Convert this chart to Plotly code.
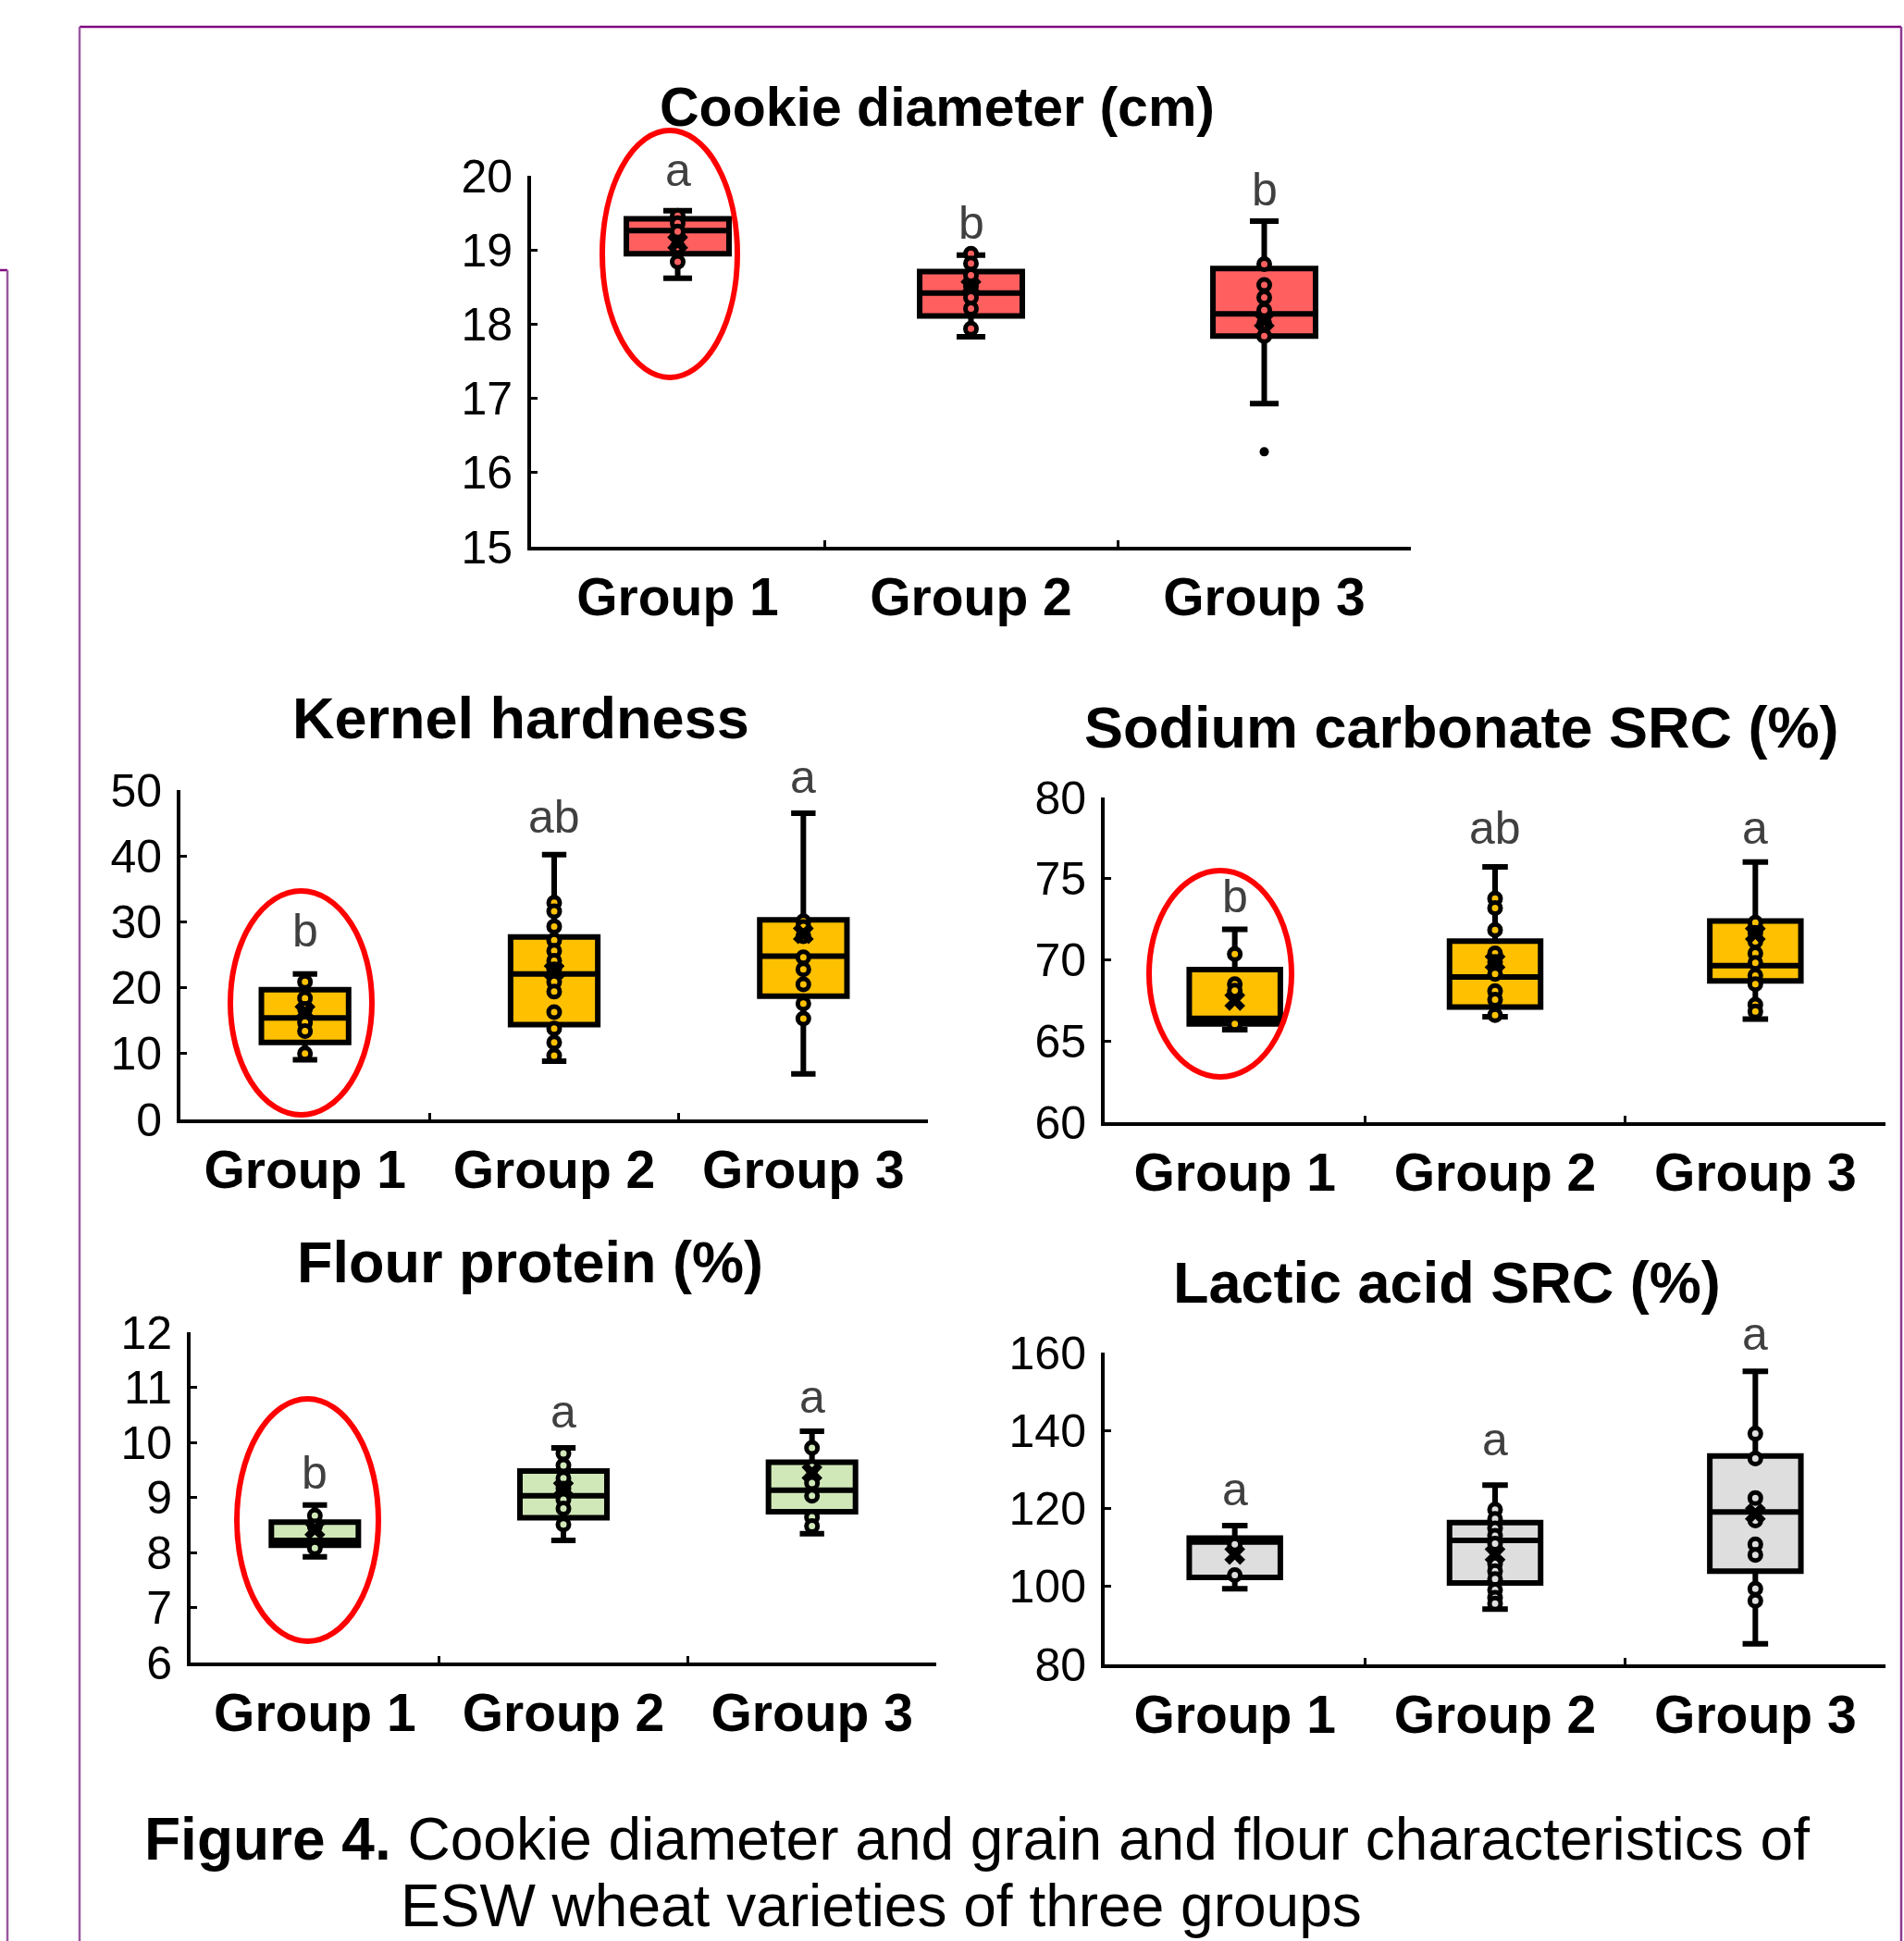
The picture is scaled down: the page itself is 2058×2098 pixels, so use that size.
import plotly.graph_objects as go

W, H = 2058, 2098
FONT = "Liberation Sans, Arial, sans-serif"

groups = ["Group 1", "Group 2", "Group 3"]

# ---------------- data ----------------
# Cookie diameter (cm)
cookie_lower = [18.62, 17.83, 16.93]
cookie_q1 = [18.95, 18.11, 17.84]
cookie_median = [19.26, 18.42, 18.14]
cookie_q3 = [19.42, 18.71, 18.75]
cookie_upper = [19.53, 18.93, 19.39]
cookie_mean = [19.10, 18.50, 18.05]
cookie_points = [[19.46, 19.36, 19.25, 19.04, 18.84],
                 [18.95, 18.82, 18.66, 18.51, 18.36, 18.21, 17.94],
                 [18.81, 18.53, 18.36, 18.19, 18.01, 17.84]]
cookie_outliers = [[], [], [16.28]]
cookie_letters = ["a", "b", "b"]
cookie_letter_y = [20.08, 19.37, 19.81]
cookie_ticks = [15, 16, 17, 18, 19, 20]

# Kernel hardness
kernel_lower = [9.06, 8.85, 6.9]
kernel_q1 = [11.7, 14.4, 18.7]
kernel_median = [15.4, 22.1, 24.8]
kernel_q3 = [19.7, 27.7, 30.3]
kernel_upper = [22.1, 40.2, 46.5]
kernel_mean = [16.3, 22.5, 28.2]
kernel_points = [[20.9, 18.4, 16.8, 14.7, 13.4, 10.0],
                 [32.9, 31.6, 29.3, 27.2, 25.6, 24.1, 22.8, 20.9, 19.4, 16.3, 13.8, 11.7, 9.7],
                 [30.1, 29.2, 27.8, 24.6, 22.8, 20.5, 17.6, 15.3]]
kernel_outliers = [[], [], []]
kernel_letters = ["b", "ab", "a"]
kernel_letter_y = [28.7, 45.9, 51.9]
kernel_ticks = [0, 10, 20, 30, 40, 50]

# Sodium carbonate SRC (%)
sodium_lower = [65.7, 66.5, 66.35]
sodium_q1 = [66.05, 67.1, 68.7]
sodium_median = [66.4, 68.94, 69.65]
sodium_q3 = [69.4, 71.15, 72.4]
sodium_upper = [71.88, 75.73, 76.03]
sodium_mean = [67.5, 69.87, 71.6]
sodium_points = [[70.36, 68.5, 68.1, 66.05],
                 [73.78, 73.19, 71.84, 70.4, 69.87, 69.13, 68.08, 67.55, 66.6],
                 [72.3, 71.67, 71.14, 70.4, 69.81, 69.03, 68.5, 67.24, 66.82]]
sodium_outliers = [[], [], []]
sodium_letters = ["b", "ab", "a"]
sodium_letter_y = [73.9, 78.1, 78.1]
sodium_ticks = [60, 65, 70, 75, 80]

# Flour protein (%)
flour_lower = [7.92, 8.22, 8.34]
flour_q1 = [8.13, 8.63, 8.74]
flour_median = [8.22, 9.03, 9.13]
flour_q3 = [8.55, 9.48, 9.64]
flour_upper = [8.86, 9.9, 10.2]
flour_mean = [8.42, 9.16, 9.45]
flour_points = [[8.67, 8.47, 8.08],
                 [9.8, 9.58, 9.35, 9.16, 8.96, 8.8, 8.51],
                 [9.9, 9.55, 9.26, 9.03, 8.64, 8.48]]
flour_outliers = [[], [], []]
flour_letters = ["b", "a", "a"]
flour_letter_y = [9.45, 10.55, 10.83]
flour_ticks = [6, 7, 8, 9, 10, 11, 12]

# Lactic acid SRC (%)
lactic_lower = [99.4, 94.2, 85.3]
lactic_q1 = [102.3, 100.9, 103.9]
lactic_median = [111.4, 111.8, 119.1]
lactic_q3 = [112.4, 116.4, 133.5]
lactic_upper = [115.6, 126.0, 155.2]
lactic_mean = [108.2, 108.2, 118.7]
lactic_points = [[110.8, 102.9],
                 [119.7, 117.3, 114.9, 113.0, 111.0, 105.8, 103.9, 101.9, 99.1, 97.1, 95.6],
                 [139.2, 132.8, 122.7, 116.9, 110.8, 108.1, 99.4, 96.3]]
lactic_outliers = [[], [], []]
lactic_letters = ["a", "a", "a"]
lactic_letter_y = [124.8, 137.8, 164.8]
lactic_ticks = [80, 100, 120, 140, 160]

titles = ["Cookie diameter (cm)", "Kernel hardness", "Sodium carbonate SRC (%)",
          "Flour protein (%)", "Lactic acid SRC (%)"]
caption_bold = "Figure 4."
caption_line1 = " Cookie diameter and grain and flour characteristics of"
caption_line2 = "ESW wheat varieties of three groups"

# ---------------- layout / style ----------------
def px(x):
    return x / W


def py(y):
    return 1 - y / H


panels = [
    dict(data=(cookie_lower, cookie_q1, cookie_median, cookie_q3, cookie_upper, cookie_mean,
               cookie_points, cookie_outliers, cookie_letters, cookie_letter_y, cookie_ticks),
         box=(574, 1525, 190, 591), fill="#FF5F5F", title_xy=(1013, 116), title_size=59,
         ellipse=(651, 141, 797, 408)),
    dict(data=(kernel_lower, kernel_q1, kernel_median, kernel_q3, kernel_upper, kernel_mean,
               kernel_points, kernel_outliers, kernel_letters, kernel_letter_y, kernel_ticks),
         box=(195, 1003, 854, 1210), fill="#FFC000", title_xy=(563, 776), title_size=63,
         ellipse=(249, 963, 402, 1205)),
    dict(data=(sodium_lower, sodium_q1, sodium_median, sodium_q3, sodium_upper, sodium_mean,
               sodium_points, sodium_outliers, sodium_letters, sodium_letter_y, sodium_ticks),
         box=(1194, 2038, 862, 1213), fill="#FFC000", title_xy=(1580, 786), title_size=63,
         ellipse=(1242, 941, 1396, 1164)),
    dict(data=(flour_lower, flour_q1, flour_median, flour_q3, flour_upper, flour_mean,
               flour_points, flour_outliers, flour_letters, flour_letter_y, flour_ticks),
         box=(206, 1012, 1440, 1797), fill="#D0E8B8", title_xy=(573, 1364), title_size=63,
         ellipse=(256, 1512, 409, 1774)),
    dict(data=(lactic_lower, lactic_q1, lactic_median, lactic_q3, lactic_upper, lactic_mean,
               lactic_points, lactic_outliers, lactic_letters, lactic_letter_y, lactic_ticks),
         box=(1194, 2038, 1462, 1799), fill="#DEDEDE", title_xy=(1564, 1386), title_size=63,
         ellipse=None),
]

fig = go.Figure()
annotations = []
shapes = []
layout_axes = {}

for i, p in enumerate(panels, start=1):
    lower, q1, med, q3, upper, mean, pts, outl, letters, letter_y, ticks = p["data"]
    suffix = "" if i == 1 else str(i)
    xa, ya = "x" + suffix, "y" + suffix
    fill = p["fill"]
    fig.add_trace(go.Box(
        x=groups, q1=q1, median=med, q3=q3, lowerfence=lower, upperfence=upper,
        fillcolor=fill, line=dict(color="black", width=6), whiskerwidth=0.28,
        boxpoints=False, xaxis=xa, yaxis=ya, showlegend=False, hoverinfo="skip"))
    px_x, px_y = [], []
    for g, vals in zip(groups, pts):
        px_x += [g] * len(vals)
        px_y += vals
    fig.add_trace(go.Scatter(
        x=px_x, y=px_y, mode="markers", xaxis=xa, yaxis=ya, showlegend=False,
        marker=dict(symbol="circle", size=12, color=fill, line=dict(color="black", width=5))))
    fig.add_trace(go.Scatter(
        x=groups, y=mean, mode="markers", xaxis=xa, yaxis=ya, showlegend=False,
        marker=dict(symbol="x", size=20, color="black", line=dict(width=0))))
    ox, oy = [], []
    for g, vals in zip(groups, outl):
        ox += [g] * len(vals)
        oy += vals
    if oy:
        fig.add_trace(go.Scatter(
            x=ox, y=oy, mode="markers", xaxis=xa, yaxis=ya, showlegend=False,
            marker=dict(symbol="circle", size=10, color="black")))

    x0, x1, ytop, ybot = p["box"]
    layout_axes["xaxis" + suffix] = dict(
        domain=[px(x0), px(x1)], anchor=ya, type="category", categoryorder="array",
        categoryarray=groups, range=[-0.5, 2.5], showline=True, linecolor="black", linewidth=4,
        ticks="inside", tickson="boundaries", ticklen=7, tickwidth=3, tickcolor="black",
        showgrid=False, zeroline=False, ticklabelstandoff=2, automargin=False,
        tickfont=dict(family=FONT, size=57, color="black", weight="bold"))
    layout_axes["yaxis" + suffix] = dict(
        domain=[py(ybot), py(ytop)], anchor=xa, range=[ticks[0], ticks[-1]],
        tickvals=ticks, showline=True, linecolor="black", linewidth=4,
        ticks="inside", ticklen=7, tickwidth=3, tickcolor="black", showgrid=False,
        zeroline=False, ticklabelstandoff=6, automargin=False,
        tickfont=dict(family=FONT, size=50, color="black"))

    lo, hi = ticks[0], ticks[-1]
    for g, t, yv in zip(groups, letters, letter_y):
        annotations.append(dict(x=g, y=(yv - lo) / (hi - lo), xref=xa, yref=ya + " domain",
                                text=t, showarrow=False, xanchor="center", yanchor="middle",
                                font=dict(family=FONT, size=50, color="#404040")))
    tx, ty = p["title_xy"]
    annotations.append(dict(x=px(tx), y=py(ty), xref="paper", yref="paper", text=titles[i - 1],
                            showarrow=False, xanchor="center", yanchor="middle",
                            font=dict(family=FONT, size=p["title_size"], color="black", weight="bold")))
    if p["ellipse"]:
        ex0, ey0, ex1, ey1 = p["ellipse"]
        shapes.append(dict(type="circle", xref="paper", yref="paper",
                           x0=px(ex0), x1=px(ex1), y0=py(ey1), y1=py(ey0),
                           line=dict(color="#FF0000", width=6), layer="above"))

# caption
annotations.append(dict(x=px(154), y=py(1988), xref="paper", yref="paper",
                        text=f"<b>{caption_bold}</b>{caption_line1}", showarrow=False,
                        xanchor="left", yanchor="middle",
                        font=dict(family=FONT, size=64, color="black")))
annotations.append(dict(x=px(431), y=py(2060), xref="paper", yref="paper",
                        text=caption_line2, showarrow=False, xanchor="left", yanchor="middle",
                        font=dict(family=FONT, size=64, color="black")))

# page frame (purple)
frame = [((86, 29), (2055, 29), "#800a80"), ((86, 29), (86, 2098), "#9b59a0"),
         ((2055, 29), (2055, 2098), "#8e3a90"), ((0, 292), (8, 292), "#800a80"),
         ((8, 292), (8, 2098), "#9b59a0")]
for (ax0, ay0), (ax1, ay1), col in frame:
    shapes.append(dict(type="line", xref="paper", yref="paper", x0=px(ax0), y0=py(ay0),
                       x1=px(ax1), y1=py(ay1), line=dict(color=col, width=2.5)))

fig.update_layout(
    width=W, height=H, margin=dict(l=0, r=0, t=0, b=0, pad=0, autoexpand=False),
    paper_bgcolor="white", plot_bgcolor="white", boxgap=0.5, showlegend=False,
    annotations=annotations, shapes=shapes, font=dict(family=FONT), **layout_axes)

fig.write_html("out.html", config={"displayModeBar": False},
               post_script="document.body.style.margin='0';document.body.style.overflow='hidden';")
